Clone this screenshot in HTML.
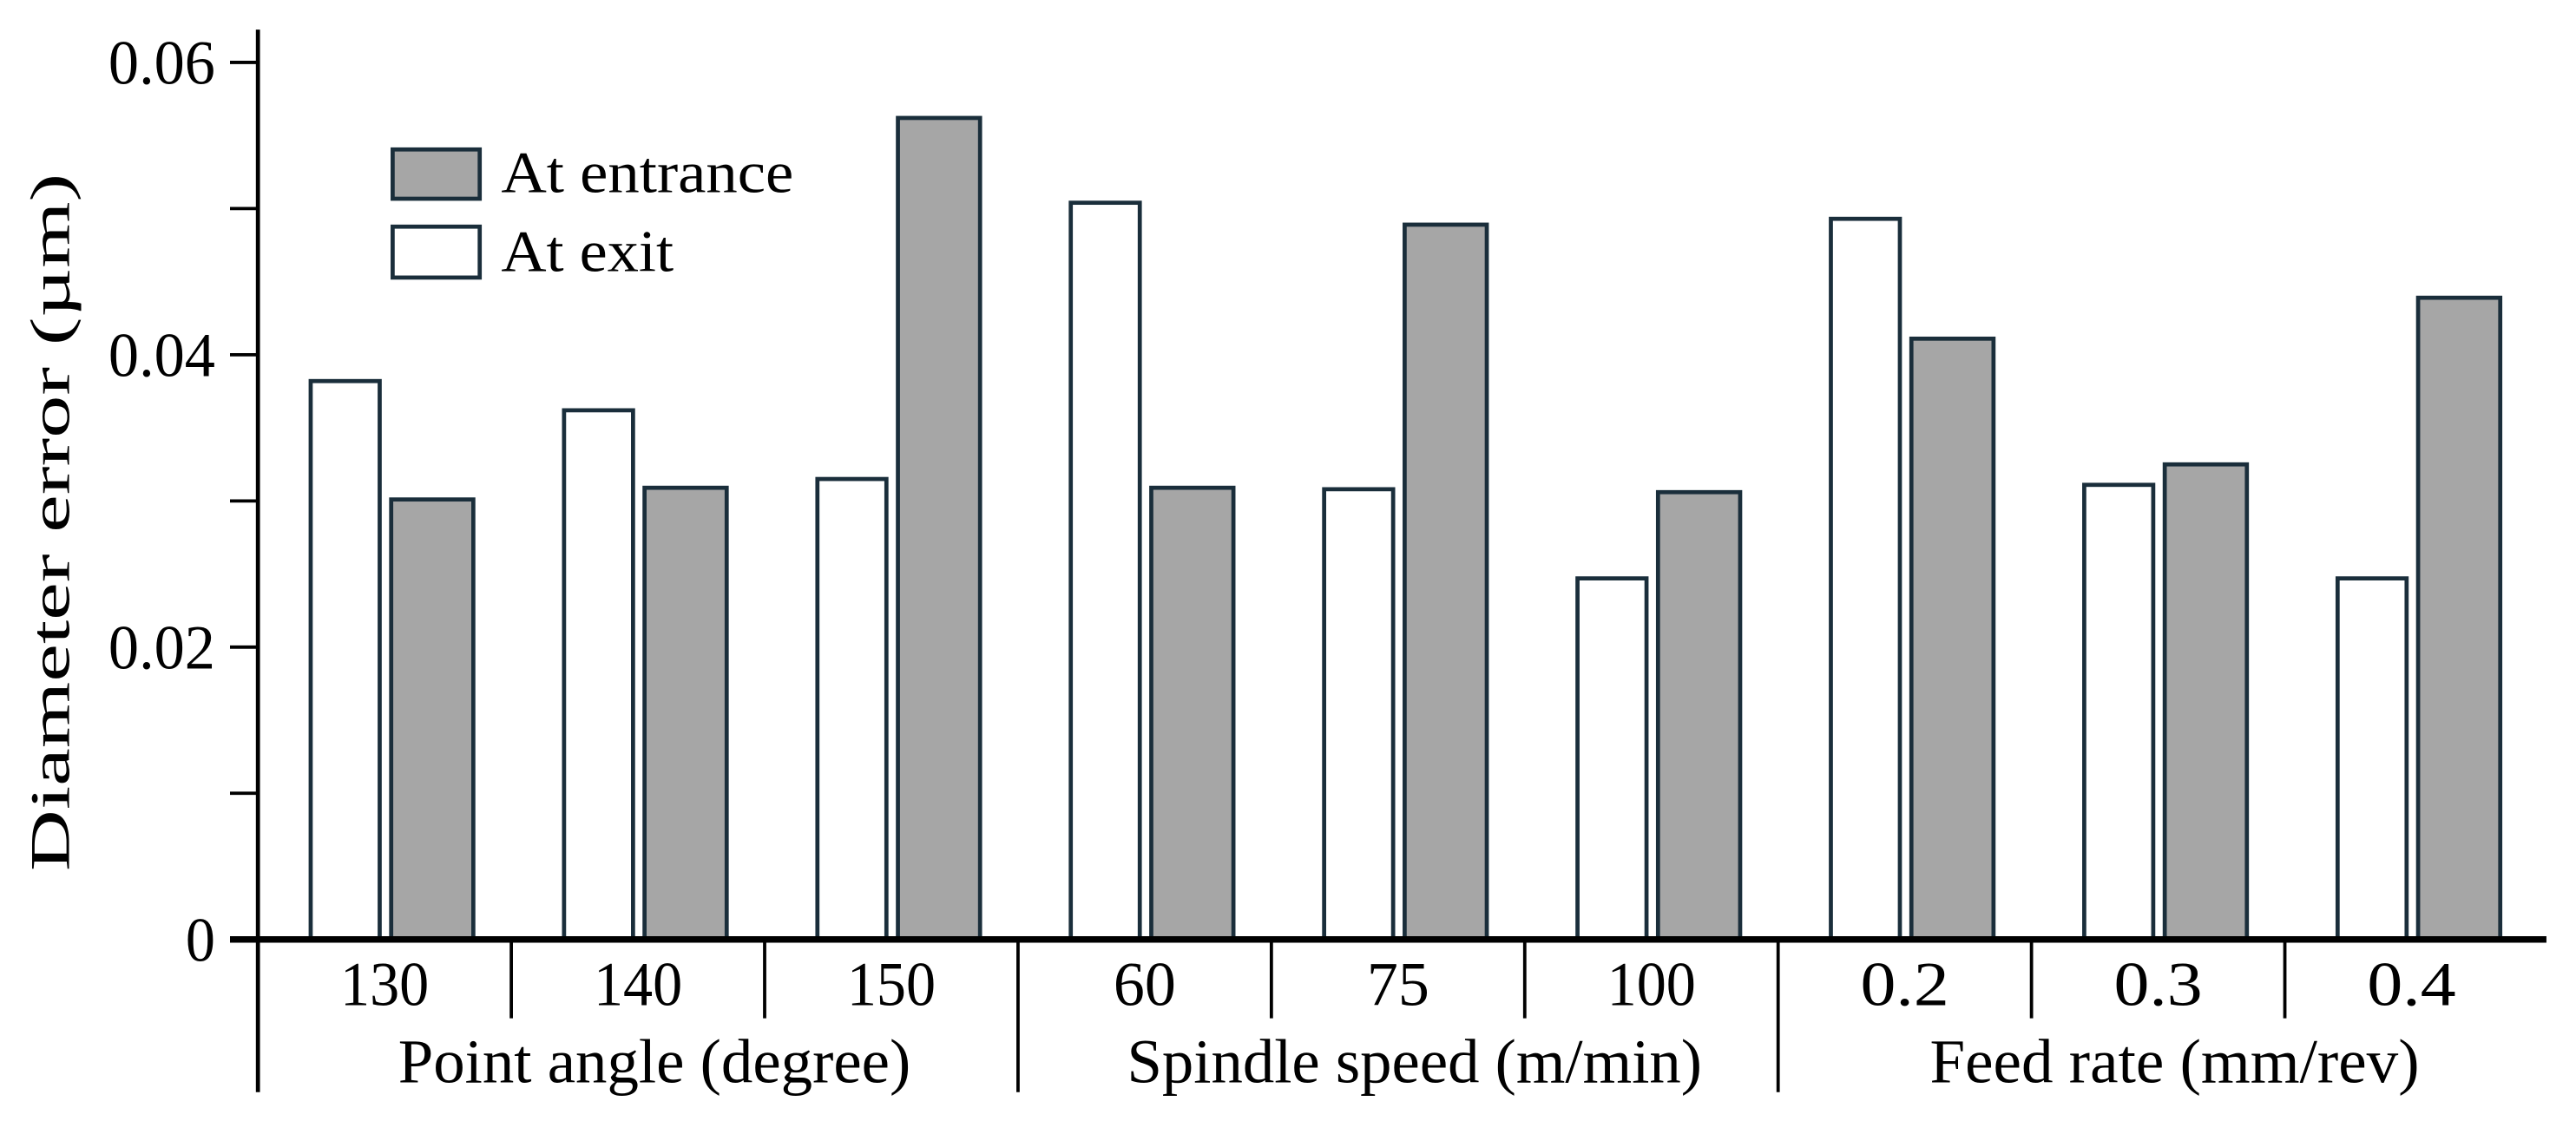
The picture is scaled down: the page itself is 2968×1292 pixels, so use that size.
<!DOCTYPE html>
<html><head><meta charset="utf-8"><style>
html,body{margin:0;padding:0;background:#fff;}
svg{display:block;}
text{font-family:"Liberation Serif",serif;fill:#000;}
</style></head><body>
<svg id="chart" width="2968" height="1292" viewBox="0 0 1568 682.55" preserveAspectRatio="none" xmlns="http://www.w3.org/2000/svg">
<g id="bars"></g>
<g id="axes"></g>
<g>
<rect x="239" y="91" width="53" height="30" fill="#a6a6a6" stroke="#1a2e3b" stroke-width="2.5"/>
<text x="305" y="117" font-size="36" textLength="178" lengthAdjust="spacingAndGlyphs">At entrance</text>
<rect x="239" y="138" width="53" height="31" fill="#fff" stroke="#1a2e3b" stroke-width="2.5"/>
<text x="305" y="165" font-size="36" textLength="105" lengthAdjust="spacingAndGlyphs">At exit</text>
</g>
<text transform="translate(42,318) rotate(-90)" text-anchor="middle" font-size="34" textLength="425" lengthAdjust="spacingAndGlyphs">Diameter error (µm)</text>
</svg>
<script>
const categories = ["130","140","150","60","75","100","0.2","0.3","0.4"];
const groups = ["Point angle (degree)","Spindle speed (m/min)","Feed rate (mm/rev)"];
const exitValues = [0.0382,0.0362,0.0315,0.0504,0.0308,0.0247,0.0493,0.0311,0.0247];
const entranceValues = [0.0301,0.0309,0.0562,0.0309,0.0489,0.0306,0.0411,0.0325,0.0439];
const yTicks = [0,0.01,0.02,0.03,0.04,0.05,0.06];
const yTickLabels = ["0","","0.02","","0.04","","0.06"];

const NS="http://www.w3.org/2000/svg";
const X0=157, X1=1545, Y0=572, YTOP=38;
const catW=(X1-X0)/categories.length;
function y(v){return Y0-(v/0.06)*(Y0-YTOP);}
function xc(i){return X0+catW*(i+0.5);}
function mk(tag,attrs,parent){const e=document.createElementNS(NS,tag);for(const k in attrs)e.setAttribute(k,attrs[k]);parent.appendChild(e);return e;}
const bars=document.getElementById('bars'), axes=document.getElementById('axes');
categories.forEach((c,i)=>{
  const cx=xc(i);
  let r=mk('rect',{x:cx-45,y:y(exitValues[i]),width:42,height:Y0-y(exitValues[i]),fill:'#fff',stroke:'#1a2e3b','stroke-width':2.5},bars);
  
  
  r=mk('rect',{x:cx+4,y:y(entranceValues[i]),width:50,height:Y0-y(entranceValues[i]),fill:'#a6a6a6',stroke:'#1a2e3b','stroke-width':2.5},bars);
  
  
  const t=mk('text',{x:cx,y:612,'text-anchor':'middle','font-size':38,textLength:c.length*16+6,lengthAdjust:'spacingAndGlyphs'},axes);
  t.textContent=c;
  
  
  if(i>0){
    const big=i%3===0;
    const l=mk('line',{x1:X0+catW*i,x2:X0+catW*i,y1:Y0,y2:big?665:620,stroke:'#000','stroke-width':2},axes);
    
    
  }
});
const groupWidths=[312,350,298];
groups.forEach((g,j)=>{
  const t=mk('text',{x:X0+catW*(3*j+1.5)+10,y:659,'text-anchor':'middle','font-size':38,textLength:groupWidths[j],lengthAdjust:'spacingAndGlyphs'},axes);
  t.textContent=g;
  
  
});
let a=mk('line',{x1:X0,x2:X0,y1:18,y2:665,stroke:'#000','stroke-width':2.5},axes);


a=mk('line',{x1:140,x2:1550,y1:Y0,y2:Y0,stroke:'#000','stroke-width':4},axes);


yTicks.forEach((v,i)=>{
  const l=mk('line',{x1:140,x2:X0,y1:y(v),y2:y(v),stroke:'#000','stroke-width':2},axes);
  
  
  if(yTickLabels[i]){
    const s=yTickLabels[i];
    const t=mk('text',{x:131,y:y(v)+13,'text-anchor':'end','font-size':38,textLength:s.length===1?18:65,lengthAdjust:'spacingAndGlyphs'},axes);
    t.textContent=s;
    
    
  }
});
</script>
</body></html>
